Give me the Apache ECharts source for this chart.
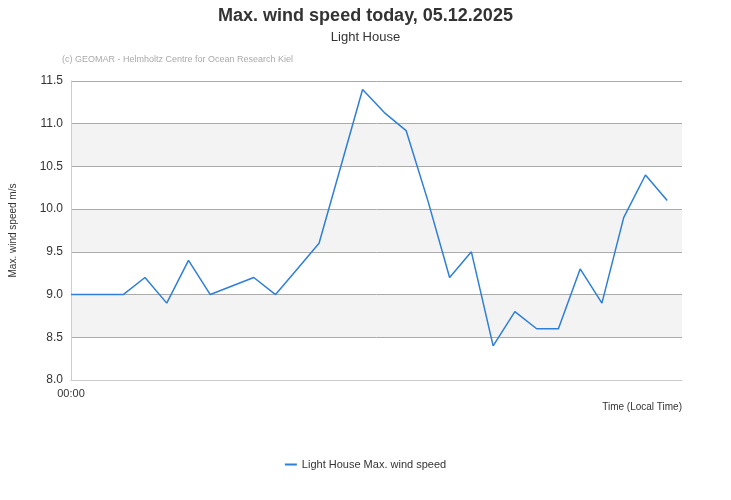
<!DOCTYPE html><html><head><meta charset="utf-8"><script src="https://cdn.jsdelivr.net/npm/echarts@6/dist/echarts.min.js"></script></head><body style="margin:0"><div id="c" style="width:731px;height:500px"></div><script>
const xPos=[0,2.4,3.4,4.4,5.4,6.4,7.4,8.4,9.4,10.4,11.4,12.4,13.4,14.4,15.4,16.4,17.4,18.4,19.4,20.4,21.4,22.4,23.4,24.4,25.4,26.4,27.4];
const speeds=[9.0,9.0,9.2,8.9,9.4,9.0,9.1,9.2,9.0,9.3,9.6,10.5,11.4,11.13,10.92,10.1,9.2,9.5,8.4,8.8,8.6,8.6,9.3,8.9,9.9,10.4,10.1];
const yTicks=[8.0,8.5,9.0,9.5,10.0,10.5,11.0,11.5];
const F='Liberation Sans, Arial, sans-serif';
const c=echarts.init(document.getElementById('c'));
c.setOption({
title:{text:'Max. wind speed today, 05.12.2025',subtext:'Light House',left:'center',top:2,textStyle:{fontSize:18,fontWeight:'bold',color:'#333',fontFamily:F},subtextStyle:{fontSize:13,color:'#333',fontFamily:F},itemGap:6},
graphic:[{type:'text',left:62,top:55,style:{text:'(c) GEOMAR - Helmholtz Centre for Ocean Research Kiel',fill:'#aaa',font:'9px '+F}}],
legend:{bottom:25,icon:'rect',itemWidth:12,itemHeight:2,textStyle:{fontSize:11,color:'#333',fontFamily:F},data:['Light House Max. wind speed']},
grid:{left:62,right:49,top:81,bottom:120,containLabel:false},
xAxis:{type:'value',min:0,max:28.08,interval:28.08,name:'Time (Local Time)',nameLocation:'end',nameGap:0,nameTextStyle:{verticalAlign:'top',align:'right',padding:[22,0,0,0],fontSize:10,color:'#333',fontFamily:F},
axisLine:{show:true,lineStyle:{color:'#ccc'}},axisTick:{show:false},splitLine:{show:false},
axisLabel:{formatter:v=>v===0?'00:00':'',color:'#333',fontSize:11,fontFamily:F,align:'center',margin:8}},
yAxis:{type:'value',min:8,max:11.5,interval:0.5,name:'Max. wind speed m/s',nameLocation:'middle',nameGap:53,nameTextStyle:{fontSize:10,color:'#333',fontFamily:F},
axisLabel:{formatter:v=>v.toFixed(1),color:'#333',fontSize:12,fontFamily:F,margin:8},axisLine:{show:true,lineStyle:{color:'#ccc'}},axisTick:{show:false},
splitLine:{lineStyle:{color:'#aaa'}},splitArea:{show:true,areaStyle:{color:['#fff','#f3f3f3']}}},
series:[{name:'Light House Max. wind speed',type:'line',data:xPos.map((x,i)=>[x,speeds[i]]),showSymbol:false,lineStyle:{color:'#2f7ed8',width:1.5},itemStyle:{color:'#2f7ed8'}}]
});
</script></body></html>
